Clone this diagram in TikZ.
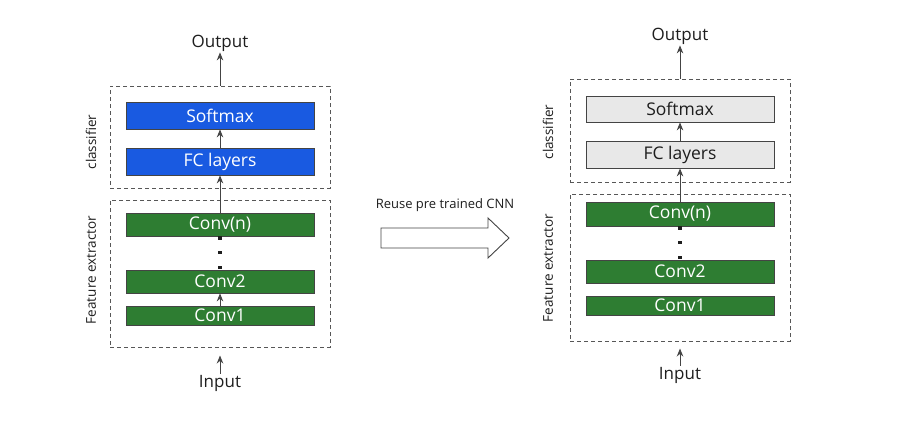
\documentclass[tikz,border=0pt]{standalone}
\usepackage{fontspec}
\setmainfont{Open Sans}
\usetikzlibrary{arrows.meta}
\definecolor{blueL}{HTML}{195AE1}
\definecolor{greenL}{HTML}{2E7D32}
\definecolor{grayL}{HTML}{E8E8E8}
\definecolor{edgeC}{HTML}{444444}
\definecolor{txtC}{HTML}{1E1E1E}
\tikzset{
  layer/.style={draw=edgeC, line width=0.8pt, minimum width=188pt, inner sep=0pt, text=white, font=\fontsize{17.5}{19}\selectfont},
  bluebox/.style={layer, fill=blueL, minimum height=27pt},
  greybox/.style={layer, fill=grayL, text=txtC, minimum height=27pt},
  greenbox/.style={layer, fill=greenL},
  group/.style={draw=edgeC!90, dash pattern=on 4pt off 3pt, line width=1pt, minimum width=220pt, inner sep=0pt},
  side/.style={rotate=90, text=txtC, font=\fontsize{13.5}{15}\selectfont},
  io/.style={text=txtC, font=\fontsize{17}{19}\selectfont, inner sep=1pt},
  flow/.style={-{Stealth[length=8pt,width=6.5pt]}, draw=edgeC, line width=1pt},
  dot/.style={fill=txtC, minimum size=3.5pt, inner sep=0pt}
}
\begin{document}
\begin{tikzpicture}[x=1pt,y=-1pt]
\useasboundingbox[fill=white] (0,0) rectangle (915,423);
% ---------- left ----------
\node[group, minimum height=102pt] (Lcls) at (220,137) {};
\node[group, minimum height=147pt] (Lfeat) at (220,273.5) {};
\node[bluebox] (Lsoft) at (220,115.5) {Softmax};
\node[bluebox] (Lfc) at (220,161.5) {FC layers};
\node[greenbox, minimum height=23pt] (Lconvn) at (220,224.5) {Conv(n)};
\node[greenbox, minimum height=23pt] (Lconv2) at (220,281.5) {Conv2};
\node[greenbox, minimum height=19pt] (Lconv1) at (220,315.5) {Conv1};
\node[dot] (Ld1) at (220,238) {};
\node[dot] (Ld2) at (220,252.5) {};
\node[dot] (Ld3) at (220,267.5) {};
\node[io] (Lout) at (220,43) {Output};
\node[io] (Lin) at (220,383) {Input};
\node[side] (Lclsl) at (91,142) {classifier};
\node[side] (Lfeatl) at (91,270) {Feature extractor};
\draw[flow] (Lconv1.north) -- (Lconv2.south);
\draw[flow] (Lconvn.north) -- (Lfc.south);
\draw[flow] (Lfc.north) -- (Lsoft.south);
\draw[flow] (Lcls.north) -- (Lout.south);
\draw[flow, shorten >=8pt] (Lin.north) -- (Lfeat.south);
% ---------- middle ----------
\node[text=txtC, font=\fontsize{13}{15}\selectfont] (reuse) at (445,205) {Reuse pre trained CNN};
\draw[edgeC, line width=0.9pt, fill=white] (381,228) -- (488,228) -- (488,218) -- (509,238) -- (488,258) -- (488,248) -- (381,248) -- cycle;
% ---------- right ----------
\node[group, minimum height=103pt] (Rcls) at (680,130.5) {};
\node[group, minimum height=147pt] (Rfeat) at (680,267.5) {};
\node[greybox, minimum height=26pt] (Rsoft) at (680,109) {Softmax};
\node[greybox] (Rfc) at (680,154.5) {FC layers};
\node[greenbox, minimum height=24pt] (Rconvn) at (680,214) {Conv(n)};
\node[greenbox, minimum height=23pt] (Rconv2) at (680,271.5) {Conv2};
\node[greenbox, minimum height=19pt] (Rconv1) at (680,305.5) {Conv1};
\node[dot] (Rd1) at (680,228) {};
\node[dot] (Rd2) at (680,242.5) {};
\node[dot] (Rd3) at (680,257.5) {};
\node[io] (Rout) at (680,36) {Output};
\node[io] (Rin) at (680,375) {Input};
\node[side] (Rclsl) at (548,132) {classifier};
\node[side] (Rfeatl) at (548,268) {Feature extractor};
\draw[flow] (Rconvn.north) -- (Rfc.south);
\draw[flow] (Rfc.north) -- (Rsoft.south);
\draw[flow] (Rcls.north) -- (Rout.south);
\draw[flow, shorten >=7pt] (Rin.north) -- (Rfeat.south);
\end{tikzpicture}
\end{document}
